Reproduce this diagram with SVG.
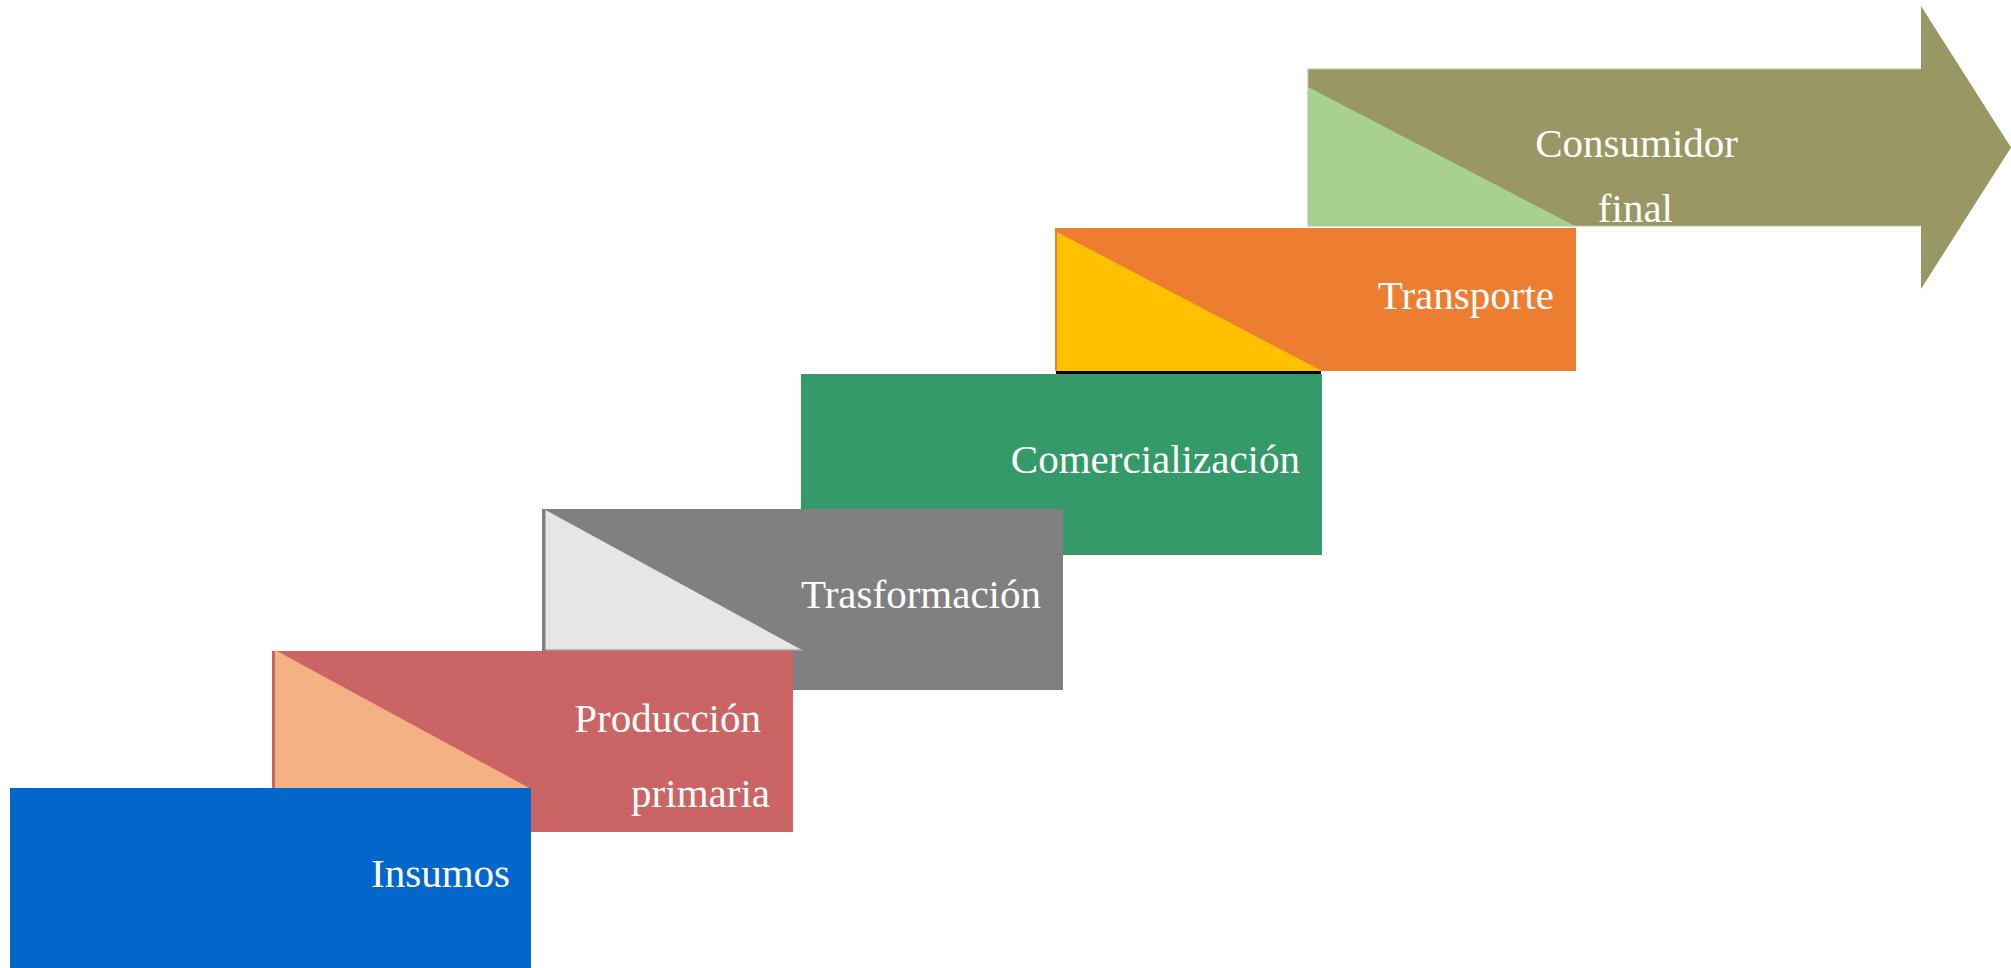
<svg xmlns="http://www.w3.org/2000/svg" width="2011" height="968" viewBox="0 0 2011 968">
<style>
.lbl{font-family:"Liberation Serif","DejaVu Serif",serif;font-size:41px;fill:#ffffff;text-anchor:end}
</style>
<rect x="0" y="0" width="2011" height="968" fill="#ffffff"/>
<g id="connectors"></g>
<g id="consumidor">
<polygon points="1308,69 1921,69 1921,6 2011,147.5 1921,289 1921,226 1308,226" fill="#999865"/>
<polygon points="1308,87 1308,226 1575,226" fill="#a9d18e"/>
<polyline points="1921,69 1308,69 1308,226 1921,226" fill="none" stroke="#bfc0a2" stroke-width="1.2"/>
<text class="lbl" x="1738" y="157">Consumidor</text>
<text class="lbl" x="1673" y="222">final</text>
</g>
<g id="transporte">
<rect x="1055" y="228" width="521" height="143" fill="#ed7d31"/>
<polygon points="1057,232 1057,371 1322,371" fill="#ffc000"/>
<rect x="1056" y="371" width="265" height="3" fill="#000000"/>
<text class="lbl" x="1554" y="309">Transporte</text>
</g>
<g id="comercializacion">
<rect x="801" y="374" width="521" height="181" fill="#359a69"/>
<text class="lbl" x="1300" y="473">Comercialización</text>
</g>
<g id="trasformacion">
<rect x="542" y="509" width="521" height="181" fill="#808080"/>
<polygon points="545.5,510 545.5,650 802,650" fill="#e6e6e6"/>
<line x1="545.5" y1="650" x2="802" y2="650" stroke="#a6a6a6" stroke-width="1.5"/>
<text class="lbl" x="1041" y="608">Trasformación</text>
</g>
<g id="produccion">
<rect x="272" y="651" width="521" height="181" fill="#cb6464"/>
<polygon points="275,650 275,790 531,789" fill="#f4b183"/>
<text class="lbl" x="761" y="732">Producción</text>
<text class="lbl" x="770" y="807">primaria</text>
</g>
<g id="insumos">
<rect x="10" y="788" width="521" height="180" fill="#0366ca"/>
<text class="lbl" x="510" y="887">Insumos</text>
</g>
</svg>
